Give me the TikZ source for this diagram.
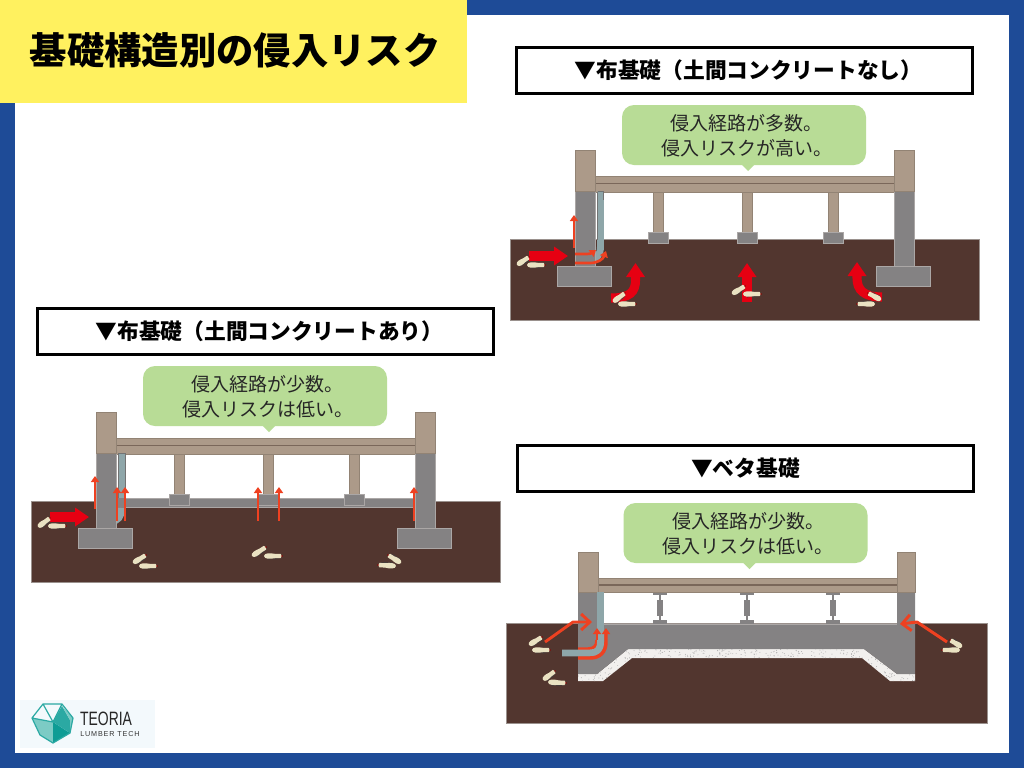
\documentclass[tikz,border=0pt]{standalone}
\usepackage{fontspec}
\setmainfont{Noto Sans CJK JP}
\newfontfamily\logofont{Liberation Sans}
\usetikzlibrary{arrows.meta}
\definecolor{frameblue}{HTML}{1E4B97}
\definecolor{banner}{HTML}{FFF15F}
\definecolor{soil}{HTML}{52362F}
\definecolor{soiledge}{HTML}{9A918D}
\definecolor{conc}{HTML}{848283}
\definecolor{concedge}{HTML}{ABA7A6}
\definecolor{wood}{HTML}{AC9A89}
\definecolor{wooddark}{HTML}{7A675A}
\definecolor{bubble}{HTML}{B8DC96}
\definecolor{boltc}{HTML}{8EA6A9}
\definecolor{bigred}{HTML}{E60012}
\definecolor{thinred}{HTML}{EE4121}
\definecolor{bugc}{HTML}{EAE2C2}
\definecolor{logoteal}{HTML}{2BA9A3}
\definecolor{logolight}{HTML}{7CCBC5}
\definecolor{logodark}{HTML}{0E9C95}
\definecolor{logobg}{HTML}{F3F9FC}
\definecolor{gravel}{HTML}{F2F0EE}
\tikzset{
  titlebox/.style={draw=black,line width=2.25pt,fill=white,minimum width=342pt,minimum height=34.5pt,inner sep=0pt,font=\bfseries\fontsize{16.3}{18}\selectfont},
  talk/.style={inner sep=0pt,align=center,font=\fontsize{14.25}{19}\selectfont,text=black!85},
  soilrect/.style={fill=soil,draw=soiledge,line width=.4pt},
  concrect/.style={fill=conc,draw=concedge,line width=.5pt},
  woodrect/.style={fill=wood,draw=wood!85!black,line width=.4pt},
  bigarrow/.style={draw=bigred,line width=6.8pt,-{Triangle[width=13.5pt,length=10.5pt]}},
  thinarrow/.style={draw=thinred,line width=2pt,-{Triangle[width=6pt,length=4.5pt]}},
  openarrow/.style={draw=thinred,line width=2.2pt,line join=round,-{Straight Barb[length=6.5pt,width=12pt,line width=2.2pt]}},
  boltline/.style={draw=boltc,line width=5.2pt},
}
\newcommand{\talkbox}[2]{%
  \fill[bubble,rounded corners=9pt] (#1-122,#2-30) rectangle (#1+122,#2+30);
  \fill[bubble] (#1-3,#2+29) -- (#1+11,#2+29) -- (#1+4,#2+36) -- cycle;
}
% one termite from tail to head
\newcommand{\bug}[4]{%
  \pgfmathsetmacro{\bugang}{atan2(-(#4-#2),#3-#1)}%
  \pgfmathsetmacro{\buglen}{veclen(#3-#1,#4-#2)}%
  \begin{scope}[shift={(#1,#2)},rotate=\bugang]
    \draw[black!75,line width=.3pt] (\buglen*.2,2.8) -- (\buglen*.85,2.8)
      (\buglen*.3,2) -- (\buglen*.25,3.6) (\buglen*.6,2) -- (\buglen*.65,3.6);
    \fill[bugc] (0,0) .. controls (\buglen*.02,-3.4) and (\buglen*.35,-3) .. (\buglen*.6,-2.2)
      -- (\buglen*.92,-2.2) .. controls (\buglen*1.02,-1.6) and (\buglen*1.02,1.6) .. (\buglen*.92,2.2)
      -- (\buglen*.6,2.2) .. controls (\buglen*.35,3) and (\buglen*.02,3.4) .. (0,0) -- cycle;
    \fill[red!55!black] (\buglen,0) circle (.9);
  \end{scope}
}
\newcommand{\striphouse}[1]{%
  \fill[soilrect] (510,239) rectangle (979,320);
  \foreach \px in {653,742,828}{
    \fill[woodrect] (\px,192) rectangle (\px+10,233);
  }
  #1
  \foreach \px in {648,737,823}{
    \fill[concrect] (\px,232) rectangle (\px+20,243);
  }
  \fill[woodrect] (595,176) rectangle (894,192);
  \draw[wooddark,line width=1pt] (595,183.5) -- (894,183.5);
}
\newcommand{\stripwalls}{%
  \fill[concrect] (575,191) rectangle (595,266);
  \fill[concrect] (557,266) rectangle (611,286);
  \fill[woodrect] (575,150) rectangle (595,191);
  \fill[concrect] (894,191) rectangle (914,266);
  \fill[concrect] (876,266) rectangle (930,286);
  \fill[woodrect] (894,150) rectangle (914,191);
}
\newcommand{\stripbolt}{%
  \draw[boltline] (600.5,191.5) -- (600.5,246) .. controls (600.5,255) and (597,259) .. (590,259.5);
  \draw[black!55,line width=.5pt] (597.5,191.5) -- (603.5,191.5) (597.5,191.5) -- (597.5,240) (603.5,191.5) -- (603.5,200);
}
\begin{document}
\begin{tikzpicture}[x=0.75pt,y=-0.75pt]
\useasboundingbox (0,0) rectangle (1024,768);
\fill[frameblue] (0,0) rectangle (1024,768);
\fill[white] (15,15) rectangle (1009,753);
\fill[banner] (0,0) rectangle (467,103);
\node[font=\bfseries\fontsize{28}{30}\selectfont,anchor=center] (heading) at (235,50) {基礎構造別の侵入リスク};

% ---------- top right: strip foundation without slab
\node[titlebox] (title1) at (744.5,70.5) {\hspace*{6pt}▼布基礎（土間コンクリートなし）};
\striphouse{}
\stripbolt
\stripwalls
\talkbox{744}{135}
\node[talk] (talk1) at (746.5,135.5) {侵入経路が多数。\\侵入リスクが高い。};
\draw[bigarrow] (529,256) -- (568,256);
\draw[bigarrow] (611,298) .. controls (630,298) and (635.5,292) .. (635.5,280) -- (635.5,263);
\draw[bigarrow] (747,302) -- (747,263);
\draw[bigarrow] (882,297) .. controls (864,297) and (857,290) .. (857,278) -- (857,262);
\draw[thinarrow] (574,248) -- (574,215);
\draw[thinarrow] (575,254) -- (586,254) .. controls (590,254) and (592,253) .. (596,250);
\draw[thinarrow] (575,263) -- (590,263) .. controls (598,263) and (603,259) .. (606,251);
\bug{517}{265}{529}{257}
\bug{527}{265}{545}{265}
\bug{613}{302}{625}{293}
\bug{618}{304}{636}{304}
\bug{732}{294}{745}{286}
\bug{743}{294}{761}{294}
\bug{881}{300}{868}{293}
\bug{875}{304}{857}{304}

% ---------- left: strip foundation with slab
\node[titlebox] (title2) at (265.5,331.5) {\hspace*{6pt}▼布基礎（土間コンクリートあり）};
\begin{scope}[shift={(-479,262)}]
\striphouse{\fill[concrect] (595,236) rectangle (894,245.5);}
\end{scope}
\begin{scope}[shift={(-479,262)}]
\fill[boltc] (597,191) rectangle (604,236);
\draw[black!55,line width=.5pt] (597,191.3) -- (604,191.3) (597,191) -- (597,236) (604,191) -- (604,236);
\fill[conc] (597,236) rectangle (604,245.5);
\draw[boltline] (600.5,246) .. controls (600.5,255) and (597,259) .. (590,259.5);
\stripwalls
\end{scope}
\talkbox{265}{396}
\node[talk] (talk2) at (267.5,396.5) {侵入経路が少数。\\侵入リスクは低い。};
\draw[bigarrow] (50,517) -- (89,517);
\draw[thinarrow] (95,509) -- (95,476);
\draw[thinarrow] (117,521) -- (117,487);
\draw[thinarrow] (125,521) -- (125,487);
\draw[thinarrow] (258,521) -- (258,487);
\draw[thinarrow] (279,521) -- (279,487);
\draw[thinarrow] (414,521) -- (414,487);
\bug{38}{527}{50}{518}
\bug{48}{526}{66}{526}
\bug{133}{563}{146}{555}
\bug{139}{566}{157}{566}
\bug{252}{556}{266}{547}
\bug{264}{556}{282}{556}
\bug{401}{563}{388}{555}
\bug{396}{566}{378}{565}

% ---------- bottom right: mat foundation
\node[titlebox] (title3) at (745.5,468.5) {▼ベタ基礎};
\fill[soilrect] (506,623) rectangle (987,723);
\begin{scope}
\clip (578,674) -- (597,674) -- (628,649) -- (864,649) -- (897,674) -- (915,674) -- (915,681) -- (890,681) -- (862,658) -- (632,658) -- (603,681) -- (578,681) -- cycle;
\fill[gravel] (570,640) rectangle (920,690);
\pgfmathsetseed{7}
\foreach \i in {1,...,900}{
  \pgfmathsetmacro{\gx}{578+337*rnd}
  \pgfmathsetmacro{\gy}{648+34*rnd}
  \fill[black!35] (\gx,\gy) circle (.45);
}
\end{scope}
\fill[conc] (578,592) -- (598,592) -- (598,624) -- (897,624) -- (897,592) -- (915,592) -- (915,674) -- (897,674) -- (864,649) -- (628,649) -- (597,674) -- (578,674) -- cycle;
\draw[concedge,line width=.7pt] (598,624) -- (897,624);
\foreach \px in {660,747,833}{
  \fill[conc] (\px-7,592) rectangle (\px+7,595);
  \fill[conc] (\px-1,595) rectangle (\px+1,620);
  \fill[conc] (\px-3,600) rectangle (\px+3,616);
  \fill[conc] (\px-7,620) rectangle (\px+7,624);
}
\fill[woodrect] (598,578) rectangle (897,592);
\draw[wooddark,line width=.8pt] (598,585) -- (897,585);
\fill[woodrect] (578,552) rectangle (598,592);
\fill[woodrect] (897,552) rectangle (915,592);
\draw[thinred,line width=2.6pt] (578,649) -- (588,649) .. controls (594,649) and (597,646) .. (597,640);
\draw[boltline] (600.5,592) -- (600.5,642) .. controls (600.5,650) and (597,653) .. (590,653) -- (562,653);
\draw[thinarrow] (597,640) -- (597,628);
\draw[thinarrow,line width=2.6pt] (578,658) -- (590,658) .. controls (600,658) and (606,652) .. (606,642) -- (606,628);
\draw[openarrow] (545,642) -- (573,622) -- (592,622);
\draw[openarrow] (947,642) -- (917,622) -- (900,624);
\talkbox{745.5}{533}
\node[talk] (talk3) at (748,533.5) {侵入経路が少数。\\侵入リスクは低い。};
\bug{529}{645}{542}{637}
\bug{532}{650}{550}{650}
\bug{543}{680}{555}{671}
\bug{548}{682}{566}{683}
\bug{962}{647}{950}{640}
\bug{960}{650}{942}{650}

% ---------- logo
\fill[logobg] (20,700) rectangle (155,748);
\fill[logolight] (32,718) -- (53,722) -- (53,743) -- (40,735) -- cycle;
\fill[logodark] (53,722) -- (70,733) -- (53,743) -- cycle;
\fill[logoteal] (53,722) -- (62,706) -- (70,720) -- (70,733) -- cycle;
\fill[logolight] (62,706) -- (73,718) -- (70,733) -- (70,720) -- cycle;
\draw[logoteal,line width=.9pt,line join=round] (43,704) -- (62,704) -- (73,718) -- (70,733) -- (53,743) -- (40,735) -- (32,718) -- cycle (32,718) -- (53,722) -- (62,704) (43,704) -- (53,722);
\node[anchor=west,inner sep=0pt,xscale=.72,font=\logofont\fontsize{14.5}{15}\selectfont,text=black!85] (logoa) at (80,719) {TEORIA};
\node[anchor=west,inner sep=0pt,font=\logofont\fontsize{5.4}{7}\selectfont,text=black!80] (logob) at (80,734.5) {\addfontfeature{LetterSpace=12}LUMBER TECH};
\end{tikzpicture}
\end{document}
